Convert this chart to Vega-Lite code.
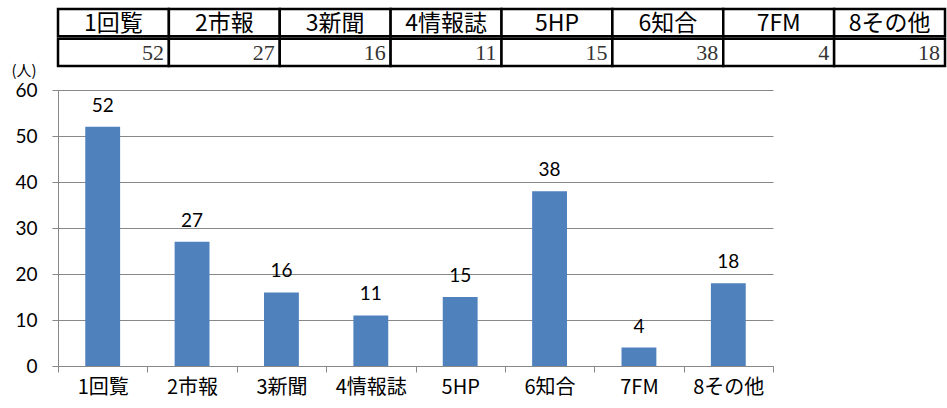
{
  "$schema": "https://vega.github.io/schema/vega-lite/v6.json",
  "padding": {"left": 11, "top": 7, "right": 2, "bottom": 5},
  "autosize": {"type": "pad"},
  "bounds": "flush",
  "spacing": 24,
  "config": {"view": {"stroke": null}},
  "datasets": {
    "d": [
      {"cat": "1回覧", "value": 52},
      {"cat": "2市報", "value": 27},
      {"cat": "3新聞", "value": 16},
      {"cat": "4情報誌", "value": 11},
      {"cat": "5HP", "value": 15},
      {"cat": "6知合", "value": 38},
      {"cat": "7FM", "value": 4},
      {"cat": "8その他", "value": 18}
    ]
  },
  "vconcat": [
    {
      "width": 887,
      "height": 57,
      "data": {"name": "d"},
      "encoding": {
        "x": {"field": "cat", "type": "nominal", "sort": null, "scale": {"paddingInner": 0, "paddingOuter": 0}, "axis": null}
      },
      "layer": [
        {
          "mark": {"type": "rect", "fill": "white", "stroke": "black", "strokeWidth": 2.5},
          "encoding": {"y": {"datum": "h", "type": "nominal", "scale": {"domain": ["h", "v"], "paddingInner": 0.08, "paddingOuter": 0}, "axis": null}}
        },
        {
          "mark": {"type": "rect", "fill": "white", "stroke": "black", "strokeWidth": 2.5},
          "encoding": {"y": {"datum": "v", "type": "nominal"}}
        },
        {
          "mark": {"type": "text", "font": "Noto Sans CJK JP", "fontSize": 23, "color": "black", "baseline": "middle", "dy": 1},
          "encoding": {"y": {"datum": "h", "type": "nominal", "bandPosition": 0.5}, "text": {"field": "cat"}}
        },
        {
          "mark": {"type": "text", "font": "Liberation Serif", "fontSize": 22, "color": "#333", "baseline": "middle", "align": "right", "dx": -5, "dy": 1},
          "encoding": {"x": {"field": "cat", "type": "nominal", "sort": null, "bandPosition": 1}, "y": {"datum": "v", "type": "nominal", "bandPosition": 0.5}, "text": {"field": "value"}}
        }
      ]
    },
    {
      "width": 715,
      "height": 276,
      "data": {"name": "d"},
      "encoding": {
        "x": {
          "field": "cat", "type": "nominal", "sort": null,
          "scale": {"paddingInner": 0, "paddingOuter": 0},
          "axis": {"title": null, "labelAngle": 0, "tickBand": "extent", "domainColor": "#888", "tickColor": "#888", "tickSize": 6, "labelFont": "Noto Sans CJK JP", "labelFontSize": 20, "labelColor": "black", "labelPadding": 5, "grid": false}
        },
        "y": {
          "field": "value", "type": "quantitative",
          "scale": {"domain": [0, 60], "nice": false},
          "axis": {"values": [0, 10, 20, 30, 40, 50, 60], "grid": true, "gridColor": "#888", "domainColor": "#888", "tickColor": "#888", "tickSize": 6, "labelFont": "Lato", "labelFontSize": 19, "labelColor": "black", "labelPadding": 15,
            "title": "(人)", "titleAngle": 0, "titleFont": "Noto Sans CJK JP", "titleFontSize": 15, "titleFontWeight": "normal", "titleColor": "black", "titleAlign": "left", "titleBaseline": "top", "titleX": -47, "titleY": -27}
        }
      },
      "layer": [
        {"mark": {"type": "bar", "color": "#4F81BD", "width": {"band": 0.39}}},
        {"mark": {"type": "text", "font": "Lato", "fontSize": 19, "color": "black", "baseline": "bottom", "dy": -11}, "encoding": {"text": {"field": "value"}}}
      ]
    }
  ]
}
